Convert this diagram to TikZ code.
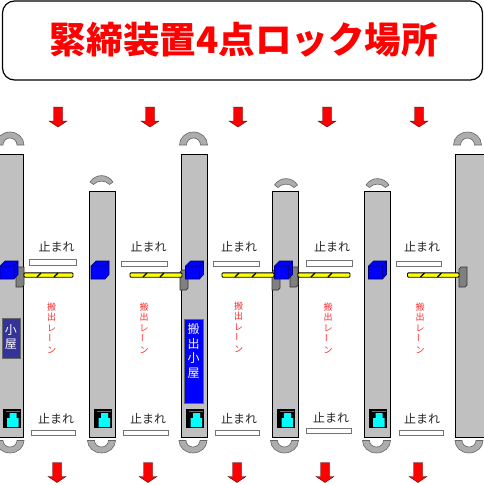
\documentclass[tikz,border=0pt]{standalone}
\usepackage{fontspec}
\setmainfont{Noto Sans CJK JP}
\usetikzlibrary{positioning,calc}

\definecolor{lockblue}{RGB}{0,0,255}
\definecolor{lockcyan}{RGB}{0,255,255}
\definecolor{lockyellow}{RGB}{255,255,0}
\definecolor{lockred}{RGB}{255,0,0}
\definecolor{hutdark}{RGB}{51,51,153}
\definecolor{stripgray}{RGB}{192,192,192}

\tikzset{
  titlebox/.style={draw=black, line width=1.2pt, fill=white, rounded corners=12pt, minimum width=480pt, minimum height=79pt, inner sep=0pt},
  titletext/.style={text=lockred, font=\fontsize{36.6}{37}\selectfont\bfseries, inner sep=0pt},
  strip/.style={draw=black, line width=1pt, fill=stripgray},
  arcshape/.style={draw=black!60, line width=.6pt, fill=stripgray!90!black},
  stopbar/.style={draw=black!55, line width=.9pt, fill=white},
  stoptext/.style={font=\fontsize{12}{12}\selectfont, text=black!85, inner sep=0pt},
  lanetext/.style={font=\fontsize{9}{10.8}\selectfont, text=lockred!85, align=center, inner sep=0pt},
  hut/.style={draw=black!60, line width=.8pt, inner sep=0pt},
  huttext/.style={text=white, align=center, inner sep=0pt, font=\fontsize{12}{14.5}\selectfont},
  redarrow/.style={draw=black!70!red, line width=.4pt, fill=lockred},
  post/.style={draw=black!80, line width=.7pt, fill=black!50},
  bar/.style={draw=black, line width=.9pt, fill=lockyellow},
}

\newcommand{\downarr}[2]{\draw[redarrow] (#1-4.5,#2) -- (#1+4.5,#2) -- (#1+4.5,#2+14) -- (#1+9,#2+14) -- (#1,#2+20) -- (#1-9,#2+14) -- (#1-4.5,#2+14) -- cycle;}
\newcommand{\cube}[2]{
\fill[lockblue,draw=black!60!blue,line width=.6pt] (#1,#2+5) -- (#1+5,#2) -- (#1+18,#2) -- (#1+18,#2+13.5) -- (#1+14,#2+18) -- (#1,#2+18) -- cycle;
\draw[black!60!blue,line width=.5pt] (#1,#2+5) -- (#1+14,#2+5) -- (#1+14,#2+18) (#1+14,#2+5) -- (#1+18,#2);
}
\newcommand{\postbox}[2]{
\draw[post] (#1,#2+2) -- (#1+2,#2) -- (#1+8,#2) -- (#1+8,#2+18) -- (#1+6,#2+20) -- (#1,#2+20) -- cycle;
}
\newcommand{\barrier}[2]{
\draw[bar,rounded corners=1pt] (#1,272.8) rectangle (#2,277.2);
\draw[black,line width=1.1pt] (#1+13,277) -- (#1+17,273) (#1+30,277) -- (#1+34,273);
}
\newcommand{\camera}[2]{
\fill[black] (#1,#2) rectangle (#1+18,#2+19);
\fill[lockcyan!60!black] (#1+3,#2+1.5) rectangle (#1+17,#2+2.5);
\fill[lockcyan] (#1+7,#2+4) rectangle (#1+14,#2+9) (#1+4.5,#2+9) rectangle (#1+16,#2+18);
}
\newcommand{\bigtop}[1]{
\draw[arcshape] (#1-14,145) arc[start angle=180,end angle=360,x radius=14,y radius=13] -- (#1+7,145) arc[start angle=360,end angle=180,x radius=7,y radius=7] -- cycle;
}
\newcommand{\smalltop}[2]{
\draw[arcshape] (#1-11.5,#2+6) .. controls (#1-6,#2-2.5) and (#1+6,#2-2.5) .. (#1+11.5,#2+6) -- (#1+8,#2+8.5) .. controls (#1+4,#2+4) and (#1-4,#2+4) .. (#1-8,#2+8.5) -- cycle;
}
\newcommand{\bottomarc}[1]{
\draw[arcshape] (#1-14,440.5) arc[start angle=180,end angle=0,x radius=14,y radius=12.5] -- (#1+7,440.5) arc[start angle=0,end angle=180,x radius=7,y radius=6.5] -- cycle;
}

\begin{document}
\begin{tikzpicture}[x=1pt,y=-1pt]

\useasboundingbox (0,0) rectangle (483,485);

\node[titlebox] (title) at (242.5,40.5) {};
\node[titletext] (titlelabel) at (244,40) {緊締装置4点ロック場所};

\draw[strip] (-5,154) rectangle (23.5,437);
\draw[strip] (89,191) rectangle (115.5,437);
\draw[strip] (181,154) rectangle (207,437);
\draw[strip] (272,191) rectangle (298,437);
\draw[strip] (364,191) rectangle (390,437);
\draw[strip] (455.5,154) rectangle (490,437);

\bigtop{10}
\bigtop{193.5}
\bigtop{467.5}
\smalltop{101.5}{176}
\smalltop{286}{179}
\smalltop{377.5}{179}

\bottomarc{10}
\bottomarc{101.5}
\bottomarc{193}
\bottomarc{284.5}
\bottomarc{376.5}
\bottomarc{469}

\downarr{58}{107}
\downarr{150}{107}
\downarr{238}{107}
\downarr{327}{107}
\downarr{419}{107}
\downarr{57}{462.5}
\downarr{148}{462.5}
\downarr{237}{462.5}
\downarr{325}{462.5}
\downarr{418}{462.5}

\node[stoptext] (stopa) at (56.5,247) {止まれ};
\node[stoptext] (stopb) at (148.5,247) {止まれ};
\node[stoptext] (stopc) at (239,247) {止まれ};
\node[stoptext] (stopd) at (332,247) {止まれ};
\node[stoptext] (stope) at (422,247) {止まれ};
\node[stoptext] (stopf) at (56,419) {止まれ};
\node[stoptext] (stopg) at (148,419) {止まれ};
\node[stoptext] (stoph) at (239,419) {止まれ};
\node[stoptext] (stopi) at (331,418) {止まれ};
\node[stoptext] (stopj) at (422,419) {止まれ};

\draw[stopbar] (29,259.5) rectangle (76,265);
\draw[stopbar] (121,261.5) rectangle (167,266.5);
\draw[stopbar] (213.5,261.5) rectangle (259,266.5);
\draw[stopbar] (306,260.5) rectangle (352,266);
\draw[stopbar] (396.5,261) rectangle (441.5,266.5);
\draw[stopbar] (31,430) rectangle (75.5,435);
\draw[stopbar] (123.5,430) rectangle (168,435);
\draw[stopbar] (215,430.5) rectangle (259,435);
\draw[stopbar] (306.5,428.5) rectangle (351,433);
\draw[stopbar] (399,430.5) rectangle (443,435);

\node[lanetext] (lanea) at (51.5,328) {搬\\出\\レ\\\rotatebox{90}{ー}\\ン};
\node[lanetext] (laneb) at (144,328) {搬\\出\\レ\\\rotatebox{90}{ー}\\ン};
\node[lanetext] (lanec) at (238.5,327) {搬\\出\\レ\\\rotatebox{90}{ー}\\ン};
\node[lanetext] (laned) at (328,328) {搬\\出\\レ\\\rotatebox{90}{ー}\\ン};
\node[lanetext] (lanee) at (420,328) {搬\\出\\レ\\\rotatebox{90}{ー}\\ン};

\node[hut,fill=hutdark,minimum width=18pt,minimum height=40pt] (huta) at (11,338) {};
\node[huttext] (hutalabel) at (11,337) {小\\屋};
\node[hut,fill=lockblue,minimum width=19pt,minimum height=84pt] (hutb) at (193.5,361) {};
\node[huttext] (hutblabel) at (193.5,351) {搬\\出\\小\\屋};

\postbox{16}{267}
\postbox{180}{270}
\postbox{272}{270}
\postbox{290}{267}
\postbox{459}{267}

\barrier{24}{73}
\barrier{130}{182}
\barrier{222}{274}
\barrier{298}{350}
\barrier{407.5}{459}

\cube{0}{261}
\cube{91}{261}
\cube{185.5}{261}
\cube{274.5}{261}
\cube{368.5}{261}

\camera{2.5}{409}
\camera{94}{409}
\camera{186}{409}
\camera{277}{409}
\camera{368.5}{409}

\end{tikzpicture}
\end{document}
